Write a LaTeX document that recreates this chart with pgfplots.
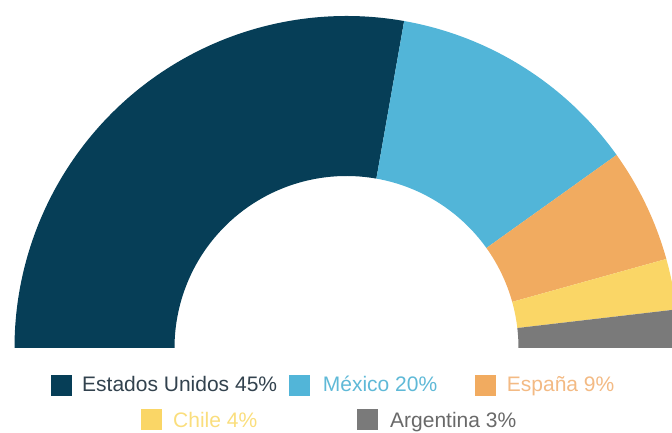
\documentclass[border=0pt]{standalone}
\usepackage{pgfplots}
\pgfplotsset{compat=1.18}
\usepackage{pgfplotstable}
\usepackage{fontspec}
\setmainfont{Liberation Sans}

\definecolor{cEU}{RGB}{6,62,87}
\definecolor{cMX}{RGB}{82,181,216}
\definecolor{cES}{RGB}{241,171,96}
\definecolor{cCL}{RGB}{250,214,102}
\definecolor{cAR}{RGB}{122,122,122}
\definecolor{tEU}{RGB}{50,66,78}
\definecolor{tMX}{RGB}{95,185,215}
\definecolor{tES}{RGB}{243,186,132}
\definecolor{tCL}{RGB}{250,222,125}
\definecolor{tAR}{RGB}{105,105,105}

\tikzset{lbl/.style={anchor=base west,inner sep=0pt,font=\fontsize{21}{25}\selectfont}}

\pgfplotstableread{
name value color
EU 45 cEU
MX 20 cMX
ES 9 cES
CL 4 cCL
AR 3 cAR
}\donut

\begin{document}
\begin{tikzpicture}
\pgfplotstablegetrowsof{\donut}
\pgfmathtruncatemacro{\nrows}{\pgfplotsretval-1}
\def\total{0}
\pgfplotsforeachungrouped \i in {0,...,\nrows}{%
  \pgfplotstablegetelem{\i}{value}\of{\donut}%
  \pgfmathsetmacro{\total}{\total+\pgfplotsretval}%
}
\begin{axis}[width=672pt,height=433pt,scale only axis,
    xmin=0,xmax=672,ymin=0,ymax=433,hide axis,
    at={(0pt,0pt)},anchor=origin, clip=true]
\def\startang{180}
\pgfplotsforeachungrouped \i in {0,...,\nrows}{%
  \pgfplotstablegetelem{\i}{value}\of{\donut}\let\val\pgfplotsretval
  \pgfplotstablegetelem{\i}{color}\of{\donut}\let\col\pgfplotsretval
  \pgfmathsetmacro{\endang}{\startang-180*\val/\total}%
  \pgfmathsetmacro{\xa}{346.5+332*cos(\startang)}%
  \pgfmathsetmacro{\ya}{85+332*sin(\startang)}%
  \pgfmathsetmacro{\xb}{346.5+172*cos(\endang)}%
  \pgfmathsetmacro{\yb}{85+172*sin(\endang)}%
  \edef\temp{\noexpand\fill[\col] (axis cs:\xa,\ya) arc[start angle=\startang,end angle=\endang,radius=332pt] -- (axis cs:\xb,\yb) arc[start angle=\endang,end angle=\startang,radius=172pt] -- cycle;}%
  \temp
  \let\startang\endang
}
% legend keys
\addplot[only marks,mark=square*,mark size=10pt,color=cEU] coordinates {(61,48)};
\addplot[only marks,mark=square*,mark size=10pt,color=cMX] coordinates {(299.5,48)};
\addplot[only marks,mark=square*,mark size=10pt,color=cES] coordinates {(485,48)};
\addplot[only marks,mark=square*,mark size=10pt,color=cCL] coordinates {(151,13.4)};
\addplot[only marks,mark=square*,mark size=10pt,color=cAR] coordinates {(366.7,13.4)};
% legend texts
\node[lbl,text=tEU] at (axis cs:82,41.3) {Estados Unidos 45\%};
\node[lbl,text=tMX] at (axis cs:322.7,41.3) {México 20\%};
\node[lbl,text=tES] at (axis cs:506.7,41.3) {España 9\%};
\node[lbl,text=tCL] at (axis cs:173,5) {Chile 4\%};
\node[lbl,text=tAR] at (axis cs:390,5) {Argentina 3\%};
\end{axis}
\pgfresetboundingbox
\path[use as bounding box] (0pt,0pt) rectangle (672pt,433pt);
\end{tikzpicture}
\end{document}
